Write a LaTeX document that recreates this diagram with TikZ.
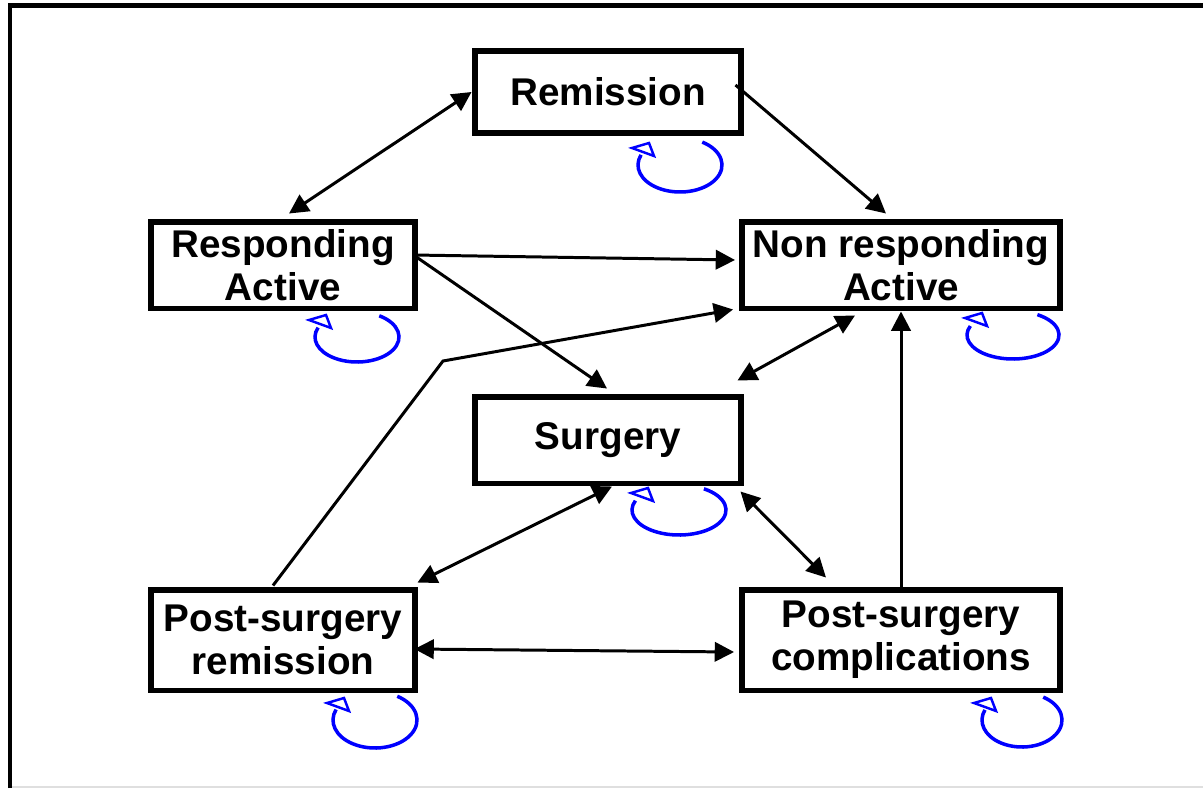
\documentclass[tikz,border=0pt]{standalone}
\usepackage{fontspec}
\setmainfont{Liberation Sans}
\usepackage{tikz}
\usetikzlibrary{arrows.meta,calc}

\begin{document}
\begin{tikzpicture}[x=0.02cm,y=-0.02cm,
  state/.style={draw,line width=3.4pt,align=center,inner sep=0pt,font=\bfseries\fontsize{22}{24.5}\selectfont},
  link/.style={line width=1.7pt,-{Triangle[length=11pt,width=11pt]}},
  both/.style={link,{Triangle[length=11pt,width=11pt]}-{Triangle[length=11pt,width=11pt]}},
  selfloop/.style={blue,line width=2pt}]
  \useasboundingbox (0,0) rectangle (1203,788);
  % frame
  \draw[line width=2.3pt] (10,788) -- (10,5.5) -- (1203,5.5);
  \draw[gray!25,line width=0.6pt] (12,787) -- (1203,787);
  % states
  \node[state,minimum width=5.34cm,minimum height=1.64cm] (rem) at (608,92) {Remission};
  \node[state,minimum width=5.3cm,minimum height=1.74cm] (resp) at (283,265) {Responding\\Active};
  \node[state,minimum width=6.36cm,minimum height=1.74cm] (nonresp) at (901,265) {Non responding\\Active};
  \node[state,minimum width=5.34cm,minimum height=1.74cm] (surg) at (608,440) {Surgery};
  \node[state,minimum width=5.3cm,minimum height=2.02cm] (psrem) at (283,640) {Post-surgery\\remission};
  \node[state,minimum width=6.36cm,minimum height=2.02cm] (pscomp) at (901,640) {Post-surgery\\complications};
  \coordinate (kink) at (443,361);
  % transitions
  \draw[both] (rem.west) -- ($(resp.north)+(6,-5)$);
  \draw[link] ($(rem.east)+(-9,-7)$) -- ($(nonresp.north)+(-15,-5)$);
  \draw[link] ($(resp.east)+(-5,-10)$) -- ($(nonresp.west)+(-4,-5)$);
  \draw[link] ($(resp.east)+(-5,-10)$) -- ($(surg.north)+(-1,-5)$);
  \draw[link] ($(psrem.north)+(-10,-1)$) -- (kink) -- ($(nonresp.south west)+(-6,-2)$);
  \draw[both] ($(surg.north east)+(-7,-13)$) -- ($(nonresp.south)+(-46,4)$);
  \draw[both] ($(surg.south)+(4,0)$) -- ($(psrem.north east)+(-1,-4)$);
  \draw[both] ($(surg.south east)+(-4,5)$) -- ($(pscomp.north)+(-75,-9)$);
  \draw[link] (pscomp.north) -- (nonresp.south);
  \draw[both] ($(psrem.east)+(-4,9)$) -- ($(pscomp.west)+(-5,12)$);
  % self loops
  \foreach \cx/\cy/\rx/\ry in {680/165/42/27, 357/337/42/25, 1013/335/46/24, 679/510/47/25, 375/720/42/28, 1022/720/40/27}{
    \draw[selfloop] (\cx,\cy) ++({\rx*cos(-58)},{\ry*sin(-58)}) arc[start angle=-58,end angle=202,x radius=\rx,y radius=\ry];
    \draw[selfloop,line width=1.4pt,fill=white] (\cx-48,\cy-17) -- (\cx-31,\cy-22) -- (\cx-26,\cy-9) -- cycle;
  }
\end{tikzpicture}
\end{document}
